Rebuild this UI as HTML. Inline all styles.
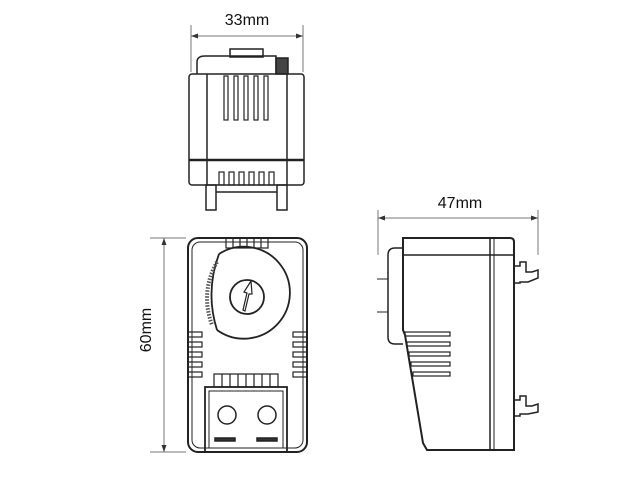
<!DOCTYPE html>
<html><head><style>body{margin:0;background:#fff}svg{display:block}</style></head><body>
<svg width="640" height="480" viewBox="0 0 640 480" xmlns="http://www.w3.org/2000/svg" font-family="Liberation Sans, sans-serif">
<g stroke="#222" fill="none" stroke-width="1.5">
<!-- top view -->
<g stroke="#777" stroke-width="1"><line x1="191" y1="25" x2="191" y2="72"/><line x1="303" y1="25" x2="303" y2="72"/><line x1="191" y1="36" x2="303" y2="36"/></g>
<path d="M191 36 l7 -2.5 v5z M303 36 l-7 -2.5 v5z" fill="#333" stroke="none"/>
<rect x="230" y="49" width="33" height="8"/>
<path d="M197 74 V62 q0 -6 8 -6 H276 V74"/>
<rect x="276" y="58" width="12" height="16" fill="#444"/>
<rect x="189" y="74" width="115" height="111" rx="3"/>
<line x1="189" y1="160" x2="304" y2="160" stroke-width="2.5"/>
<line x1="207" y1="74" x2="207" y2="185"/><line x1="287" y1="74" x2="287" y2="185"/>
<g stroke-width="1.2"><rect x="224" y="76" width="4" height="44"/><rect x="234" y="76" width="4" height="44"/><rect x="244" y="76" width="4" height="44"/><rect x="254" y="76" width="4" height="44"/><rect x="264" y="76" width="4" height="44"/>
<rect x="219" y="172" width="5" height="13"/><rect x="229" y="172" width="5" height="13"/><rect x="239" y="172" width="5" height="13"/><rect x="249" y="172" width="5" height="13"/><rect x="259" y="172" width="5" height="13"/><rect x="269" y="172" width="5" height="13"/></g>
<rect x="206" y="185" width="10" height="25"/><rect x="277" y="185" width="10" height="25"/>
<line x1="216" y1="192" x2="277" y2="192"/>
<!-- front view -->
<g stroke="#777" stroke-width="1"><line x1="164" y1="238" x2="164" y2="452"/><line x1="150" y1="238" x2="186" y2="238"/><line x1="150" y1="452" x2="186" y2="452"/></g>
<path d="M164 238 l-2.5 7 h5z M164 452 l-2.5 -7 h5z" fill="#333" stroke="none"/>
<rect x="188" y="238" width="119" height="214" rx="10" stroke-width="2"/>
<rect x="192" y="242" width="111" height="206" rx="8" stroke-width="1"/>
<g stroke-width="1.2"><rect x="226" y="238" width="42" height="10"/><line x1="233" y1="238" x2="233" y2="248"/><line x1="240" y1="238" x2="240" y2="248"/><line x1="247" y1="238" x2="247" y2="248"/><line x1="254" y1="238" x2="254" y2="248"/><line x1="261" y1="238" x2="261" y2="248"/></g>
<path d="M219 254 A46 46 0 1 1 217 330" stroke-width="1.8"/>
<path d="M219 254 Q205 292 217 330" stroke-width="1.8"/>
<path d="M217 262 Q200 292 212 325" stroke-width="4" stroke="#555" stroke-dasharray="1.5 1.5"/>
<circle cx="247" cy="297" r="17" stroke-width="1.8"/>
<path d="M243 310 L247 293 L244 292 L251 281 L252 294 L249 294 L245 311z" stroke-width="1.2"/>
<g stroke-width="1.2"><rect x="188" y="332" width="14" height="5"/><rect x="188" y="342" width="14" height="5"/><rect x="188" y="352" width="14" height="5"/><rect x="188" y="362" width="14" height="5"/><rect x="188" y="372" width="14" height="5"/>
<rect x="293" y="332" width="14" height="5"/><rect x="293" y="342" width="14" height="5"/><rect x="293" y="352" width="14" height="5"/><rect x="293" y="362" width="14" height="5"/><rect x="293" y="372" width="14" height="5"/>
<rect x="214" y="374" width="64" height="13"/><line x1="222" y1="374" x2="222" y2="387"/><line x1="230" y1="374" x2="230" y2="387"/><line x1="238" y1="374" x2="238" y2="387"/><line x1="246" y1="374" x2="246" y2="387"/><line x1="254" y1="374" x2="254" y2="387"/><line x1="262" y1="374" x2="262" y2="387"/><line x1="270" y1="374" x2="270" y2="387"/></g>
<rect x="205" y="387" width="82" height="65" stroke-width="1.8"/>
<rect x="209" y="391" width="74" height="57" stroke-width="1"/>
<circle cx="227" cy="415" r="9"/><circle cx="267" cy="415" r="9"/>
<rect x="215" y="438" width="20" height="3" fill="#333"/><rect x="257" y="438" width="20" height="3" fill="#333"/>
<!-- side view -->
<g stroke="#777" stroke-width="1"><line x1="378" y1="210" x2="378" y2="255"/><line x1="538" y1="210" x2="538" y2="255"/><line x1="378" y1="218" x2="538" y2="218"/></g>
<path d="M378 218 l7 -2.5 v5z M538 218 l-7 -2.5 v5z" fill="#333" stroke="none"/>
<path d="M403 238 H510 q4 0 4 4 V450 H427 L423 443 L405 335 L403 330 Z" stroke-width="2"/>
<line x1="403" y1="255" x2="514" y2="255"/>
<line x1="490" y1="238" x2="490" y2="450"/><line x1="494" y1="238" x2="494" y2="450" stroke-width="1"/>
<path d="M403 248 H395 q-7 0 -7 7 V337 q0 7 7 7 H403" />
<line x1="377" y1="279" x2="388" y2="279" stroke-width="1"/><line x1="377" y1="312" x2="388" y2="312" stroke-width="1"/>
<g stroke-width="1.2"><rect x="405" y="332" width="45" height="4"/><rect x="407" y="342" width="43" height="4"/><rect x="409" y="352" width="41" height="4"/><rect x="411" y="362" width="39" height="4"/><rect x="413" y="372" width="37" height="4"/></g>
<path d="M514 266 H520 V262 H526 V272 H532 L538 270 V278 L528 282 H520 V283 H514"/>
<path d="M514 400 H520 V396 H526 V406 H532 L538 404 V412 L528 414 H520 V416 H514"/>
</g>
<g fill="#111" font-size="16">
<text x="247" y="25" text-anchor="middle">33mm</text>
<text x="460" y="208" text-anchor="middle">47mm</text>
<text transform="translate(151,330) rotate(-90)" text-anchor="middle">60mm</text>
</g>
</svg>
</body></html>
